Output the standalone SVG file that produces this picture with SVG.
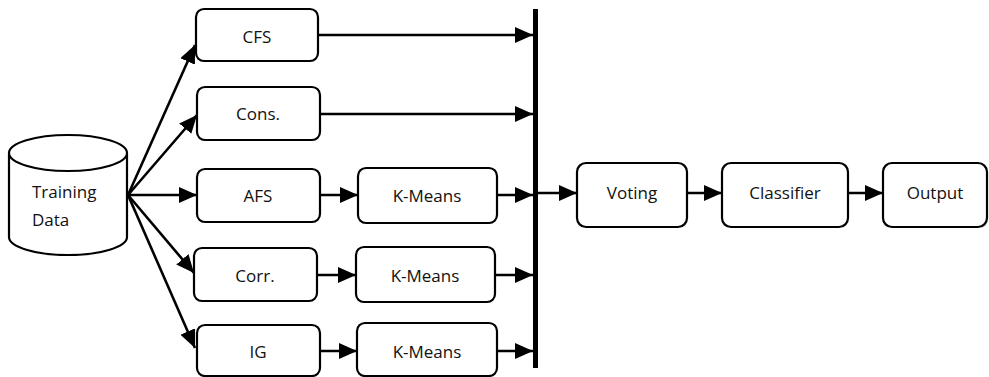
<svg xmlns="http://www.w3.org/2000/svg" width="989" height="377" viewBox="0 0 989 377">
<defs>
<marker id="ah" markerUnits="userSpaceOnUse" markerWidth="18" markerHeight="16" refX="18" refY="8" orient="auto">
<path d="M0,0 L18,8 L0,16 Z" fill="#000"/>
</marker>
<style>
.box{fill:#fff;stroke:#000;stroke-width:2.2}
.t{font-family:"Open Sans","Liberation Sans",sans-serif;font-size:17px;fill:#111;text-anchor:middle}
.c{stroke:#000;stroke-width:2.6;fill:none;marker-end:url(#ah)}
</style>
</defs>
<rect width="989" height="377" fill="#fff"/>
<g id="training-data">
<path class="box" d="M9,153 L9,237 A59,18 0 0 0 127,237 L127,153 A59,18 0 0 0 9,153 A59,18 0 0 0 127,153"/>
<text class="t" x="32" y="198" style="text-anchor:start">Training</text>
<text class="t" x="32" y="226" style="text-anchor:start">Data</text>
</g>
<g id="cfs"><rect class="box" x="196" y="9" width="122" height="52" rx="8"/><text class="t" x="257" y="43">CFS</text></g>
<g id="cons"><rect class="box" x="197" y="87" width="123" height="53" rx="8"/><text class="t" x="258" y="120">Cons.</text></g>
<g id="afs"><rect class="box" x="197" y="169" width="123" height="53" rx="8"/><text class="t" x="258" y="202">AFS</text></g>
<g id="corr"><rect class="box" x="194" y="248" width="123" height="53" rx="8"/><text class="t" x="255" y="282">Corr.</text></g>
<g id="ig"><rect class="box" x="197" y="325" width="123" height="51" rx="8"/><text class="t" x="258" y="358">IG</text></g>
<g id="kmeans1"><rect class="box" x="358" y="168" width="139" height="55" rx="8"/><text class="t" x="427" y="202">K-Means</text></g>
<g id="kmeans2"><rect class="box" x="356" y="247" width="139" height="55" rx="8"/><text class="t" x="425" y="282">K-Means</text></g>
<g id="kmeans3"><rect class="box" x="357" y="323" width="140" height="53" rx="8"/><text class="t" x="427" y="358">K-Means</text></g>
<g id="bus"><rect x="533" y="9" width="5" height="359" fill="#000"/></g>
<g id="voting"><rect class="box" x="577" y="163" width="110" height="64" rx="9"/><text class="t" x="632" y="199">Voting</text></g>
<g id="classifier"><rect class="box" x="722" y="163" width="126" height="64" rx="9"/><text class="t" x="785" y="199">Classifier</text></g>
<g id="output"><rect class="box" x="883" y="163" width="104" height="64" rx="9"/><text class="t" x="935" y="199">Output</text></g>
<g id="connectors">
<line class="c" x1="128" y1="195" x2="195" y2="45"/>
<line class="c" x1="128" y1="195" x2="197" y2="115"/>
<line class="c" x1="128" y1="195" x2="197" y2="195"/>
<line class="c" x1="128" y1="195" x2="194" y2="273"/>
<line class="c" x1="128" y1="195" x2="195" y2="348"/>
<line class="c" x1="318" y1="35" x2="533" y2="35"/>
<line class="c" x1="320" y1="114" x2="533" y2="114"/>
<line class="c" x1="320" y1="195" x2="358" y2="195"/>
<line class="c" x1="317" y1="275" x2="356" y2="275"/>
<line class="c" x1="320" y1="351" x2="357" y2="351"/>
<line class="c" x1="497" y1="195" x2="533" y2="195"/>
<line class="c" x1="495" y1="275" x2="533" y2="275"/>
<line class="c" x1="497" y1="351" x2="533" y2="351"/>
<line class="c" x1="538" y1="193" x2="577" y2="193"/>
<line class="c" x1="687" y1="193" x2="722" y2="193"/>
<line class="c" x1="848" y1="193" x2="883" y2="193"/>
</g>
</svg>
